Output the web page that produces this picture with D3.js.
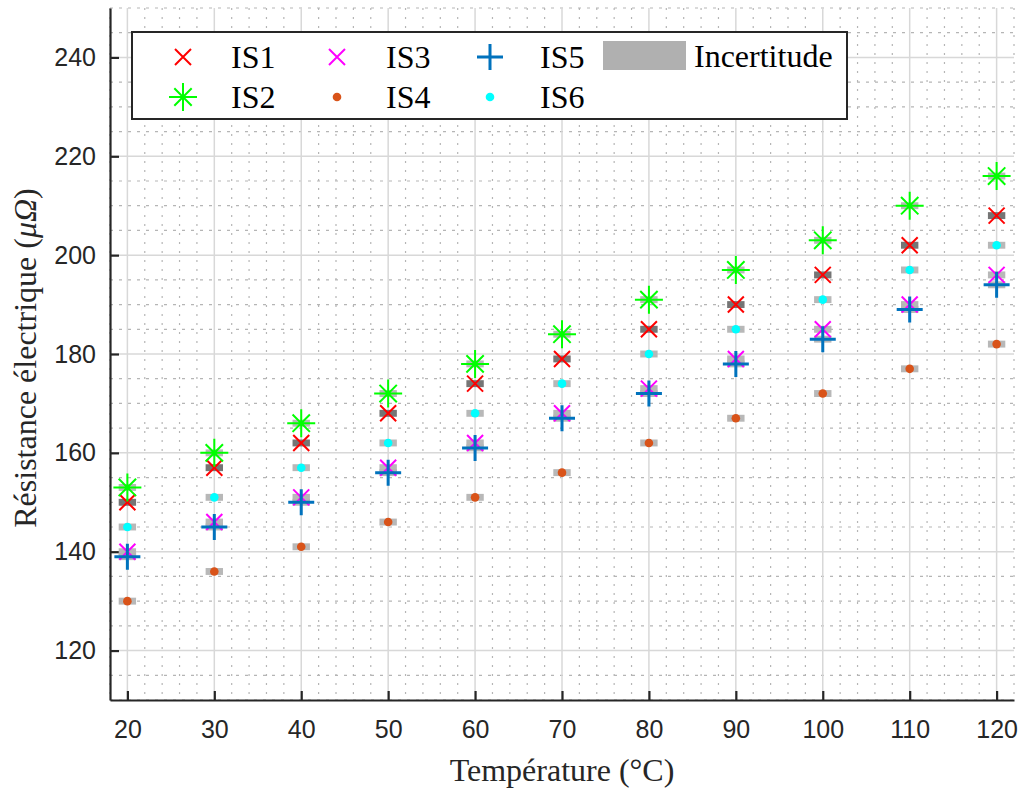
<!DOCTYPE html>
<html><head><meta charset="utf-8">
<script src="https://cdn.jsdelivr.net/npm/d3@7"></script>
<style>body{margin:0;background:#fff}svg{display:block}</style>
</head><body>
<svg id="c" width="1024" height="791"></svg>
<script>
const temps = [20, 30, 40, 50, 60, 70, 80, 90, 100, 110, 120];
const is1 = [150, 157, 162, 168, 174, 179, 185, 190, 196, 202, 208];
const is2 = [153, 160, 166, 172, 178, 184, 191, 197, 203, 210, 216];
const is3 = [140, 146, 151, 157, 162, 168, 173, 179, 185, 190, 196];
const is4 = [130, 136, 141, 146, 151, 156, 162, 167, 172, 177, 182];
const is5 = [139, 145, 150, 156, 161, 167, 172, 178, 183, 189, 194];
const is6 = [145, 151, 157, 162, 168, 174, 180, 185, 191, 197, 202];
const xTickVals = [20, 30, 40, 50, 60, 70, 80, 90, 100, 110, 120];
const yTickVals = [120, 140, 160, 180, 200, 220, 240];
const seriesNames = ["IS1", "IS2", "IS3", "IS4", "IS5", "IS6"];
const uncX = 1, uncY = 0.7;

const svg = d3.select("#c");
const L = 110, R = 1014, T = 8, B = 700;
const x = d3.scaleLinear().domain([18, 122]).range([L, R]);
const y = d3.scaleLinear().domain([110, 250]).range([B, T]);

// minor grid
const g = svg.append("g");
const xMinor = d3.range(18, 123, 2).filter(v => v % 10 !== 0);
const yMinor = d3.range(110, 251, 5).filter(v => v % 20 !== 0);
g.selectAll(".vm").data(xMinor).enter().append("line")
  .attr("x1", d => x(d)).attr("x2", d => x(d)).attr("y1", T).attr("y2", B)
  .attr("stroke", "#b5b5b5").attr("stroke-width", 1.2).attr("stroke-dasharray", "2,7");
g.selectAll(".hm").data(yMinor).enter().append("line")
  .attr("x1", L).attr("x2", R).attr("y1", d => y(d)).attr("y2", d => y(d))
  .attr("stroke", "#b5b5b5").attr("stroke-width", 1.2).attr("stroke-dasharray", "3,6");
// major grid
g.selectAll(".vM").data(xTickVals).enter().append("line")
  .attr("x1", d => x(d)).attr("x2", d => x(d)).attr("y1", T).attr("y2", B)
  .attr("stroke", "#d8d8d8").attr("stroke-width", 1.5);
g.selectAll(".hM").data(yTickVals).enter().append("line")
  .attr("x1", L).attr("x2", R).attr("y1", d => y(d)).attr("y2", d => y(d))
  .attr("stroke", "#d8d8d8").attr("stroke-width", 1.5);

// axes
const xAxis = d3.axisBottom(x).tickValues(xTickVals).tickSize(-9).tickSizeOuter(0).tickPadding(20);
const yAxis = d3.axisLeft(y).tickValues(yTickVals).tickSize(-9).tickSizeOuter(0).tickPadding(14);
const gx = svg.append("g").attr("transform", `translate(0,${B})`).call(xAxis);
const gy = svg.append("g").attr("transform", `translate(${L},0)`).call(yAxis);
[gx, gy].forEach(a => {
  a.select(".domain").attr("stroke", "#262626").attr("stroke-width", 2.2);
  a.selectAll(".tick line").attr("stroke", "#262626").attr("stroke-width", 2.2);
  a.selectAll(".tick text").attr("fill", "#262626")
    .style("font-family", "'Liberation Sans', Arial, sans-serif").style("font-size", "25px");
});
gx.selectAll(".tick text").attr("dy", "0.71em");

// uncertainty bars
const all = [is1, is2, is3, is4, is5, is6];
const barColors = ["#6e6e6e", "#b4b4b4", "#b4b4b4", "#b4b4b4", "#b4b4b4", "#b4b4b4"];
const bars = svg.append("g");
all.forEach((s, i) => {
  bars.selectAll(null).data(temps.map((t, j) => [t, s[j]])).enter().append("rect")
    .attr("x", d => x(d[0] - uncX)).attr("width", d => x(d[0] + uncX) - x(d[0] - uncX))
    .attr("y", d => y(d[1] + uncY)).attr("height", d => y(d[1] - uncY) - y(d[1] + uncY))
    .attr("fill", barColors[i]).attr("opacity", 0.95);
});

// markers
function crossPath(cx, cy, r) { return `M${cx-r},${cy-r}L${cx+r},${cy+r}M${cx-r},${cy+r}L${cx+r},${cy-r}`; }
function plusPath(cx, cy, r) { return `M${cx-r},${cy}L${cx+r},${cy}M${cx},${cy-r}L${cx},${cy+r}`; }
function starPath(cx, cy, r) { const k = r * 0.62; return plusPath(cx, cy, r) + crossPath(cx, cy, k); }
const styles = [
  {color: "#ff0000", type: "x", r: 8, w: 2},
  {color: "#00ff00", type: "star", r: 14, w: 2},
  {color: "#ff00ff", type: "x", r: 8, w: 2},
  {color: "#d95319", type: "dot", r: 4.3},
  {color: "#0072bd", type: "plus", r: 13, w: 3},
  {color: "#00ffff", type: "dot", r: 4.3}
];
function drawMarker(sel, st, cx, cy) {
  if (st.type === "dot") {
    sel.append("circle").attr("cx", cx).attr("cy", cy).attr("r", st.r).attr("fill", st.color);
  } else {
    const p = st.type === "x" ? crossPath(cx, cy, st.r) : st.type === "plus" ? plusPath(cx, cy, st.r) : starPath(cx, cy, st.r);
    sel.append("path").attr("d", p).attr("stroke", st.color).attr("stroke-width", st.w).attr("fill", "none");
  }
}
const mk = svg.append("g");
all.forEach((s, i) => {
  temps.forEach((t, j) => drawMarker(mk, styles[i], x(t), y(s[j])));
});

// legend
const lg = svg.append("g");
lg.append("rect").attr("x", 132).attr("y", 32).attr("width", 715).attr("height", 87)
  .attr("fill", "#fff").attr("stroke", "#262626").attr("stroke-width", 2);
const cols = [[183, 231], [337, 386], [490, 540]];
const rows = [57, 97];
const order = [[0, 0, 0], [1, 0, 1], [2, 1, 0], [3, 1, 1], [4, 2, 0], [5, 2, 1]];
order.forEach(([i, c, r]) => {
  const st = Object.assign({}, styles[i]);
  drawMarker(lg, st, cols[c][0], rows[r]);
  lg.append("text").attr("x", cols[c][1]).attr("y", rows[r] + 11).text(seriesNames[i])
    .style("font-family", "'Liberation Serif', 'Times New Roman', serif").style("font-size", "32px").attr("fill", "#000");
});
lg.append("rect").attr("x", 603).attr("y", 41).attr("width", 83).attr("height", 29).attr("fill", "#b0b0b0");
lg.append("text").attr("x", 694).attr("y", 67).text("Incertitude")
  .style("font-family", "'Liberation Serif', 'Times New Roman', serif").style("font-size", "32px").attr("fill", "#000");

// axis titles
svg.append("text").attr("x", (L + R) / 2).attr("y", 781).attr("text-anchor", "middle")
  .style("font-family", "'Liberation Serif', 'Times New Roman', serif").style("font-size", "32px").attr("fill", "#262626")
  .text("Température (°C)");
const yl = svg.append("text").attr("transform", `translate(36,${(T + B) / 2 + 4}) rotate(-90)`).attr("text-anchor", "middle")
  .style("font-family", "'Liberation Serif', 'Times New Roman', serif").style("font-size", "32px").attr("fill", "#262626");
yl.append("tspan").text("Résistance électrique (");
yl.append("tspan").attr("font-style", "italic").text("μΩ");
yl.append("tspan").text(")");
</script>
</body></html>
